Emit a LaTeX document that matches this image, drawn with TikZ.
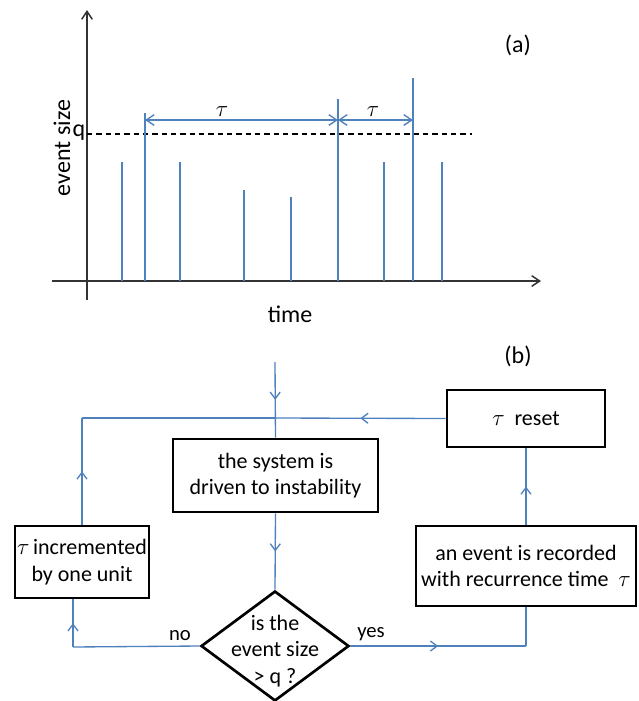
\documentclass[tikz,border=0pt]{standalone}
\usepackage{fontspec}
\setmainfont{Carlito}
\usetikzlibrary{arrows.meta,shapes.geometric,decorations.markings}
\definecolor{eventblue}{RGB}{79,129,189}

\begin{document}
\begin{tikzpicture}[x=0.75pt,y=-0.75pt,
    axis/.style={black!80, line width=1.1pt},
    spike/.style={eventblue, line width=1pt},
    flow/.style={eventblue, line width=1pt},
    barb/.tip={Straight Barb[length=6pt,width=8pt]},
    midarrow/.style={postaction={decorate}, decoration={markings,
        mark=at position 0.5 with {\arrow{Straight Barb[length=5pt,width=7.5pt]}}}},
    box/.style={draw=black, line width=2pt, align=center, inner sep=0pt,
        font=\fontsize{16.5pt}{20pt}\selectfont},
    decision/.style={diamond, draw=black, line width=2pt, inner sep=0pt,
        minimum width=111pt, minimum height=82.5pt},
    bigtext/.style={font=\fontsize{18pt}{21pt}\selectfont},
    smalltext/.style={font=\fontsize{15.5pt}{18pt}\selectfont}]
    \useasboundingbox (0,0) rectangle (639,701);

    % (a) event sizes against time
    \draw[axis,-barb] (87,300) -- (87,10);
    \draw[axis,-barb] (52,281) -- (541,281);
    \draw[black, line width=0.9pt, dash pattern=on 4pt off 3pt] (87,134) -- (472,134);
    \node[bigtext] (qlab) at (79,133) {q};
    \node[bigtext, rotate=90] (ylab) at (62,148) {event size};
    \node[bigtext] (xlab) at (290,314) {time};
    \node[bigtext] (alab) at (518,45) {(a)};

    \foreach \t/\h in {122/162, 145/113, 180/162, 244/190, 291/197,
                       338/99, 384/162, 413/78, 442/162}
        \draw[spike] (\t,281) -- (\t,\h);

    \draw[spike,barb-barb] (145,120) -- (338,120);
    \draw[spike,barb-barb] (338,120) -- (413,120);
    \node[bigtext] (tau1) at (222,112) {$\tau$};
    \node[bigtext] (tau2) at (373,112) {$\tau$};

    % (b) flow chart
    \node[bigtext] (blab) at (518,356) {(b)};

    \node[box, minimum width=153.75pt, minimum height=54.75pt] (sys) at (275.5,475.5)
        {the system is\\driven to instability};
    \node[decision] (test) at (275,646) {};
    \node[align=center, font=\fontsize{16.5pt}{20pt}\selectfont] (testtxt) at (275,651)
        {is the\\event size\\> q ?};
    \node[box, minimum width=100.5pt, minimum height=54pt] (incr) at (82,562)
        {$\tau$\,incremented\\by one unit};
    \node[box, minimum width=165pt, minimum height=60pt] (rec) at (526,566)
        {an event is recorded\\with recurrence time~~$\tau$};
    \node[box, minimum width=118.5pt, minimum height=42.75pt] (reset) at (526,418.5)
        {$\tau$~~reset};

    \coordinate (start) at (275,362);
    \coordinate (join) at (275,418);
    \coordinate (lcorner) at (82,418);
    \coordinate (ncorner) at (73,647);
    \coordinate (ycorner) at (rec.south |- test.east);

    \draw[flow,midarrow] (start) -- (sys.north);
    \draw[flow,midarrow] (sys.south) -- (test.north);
    \draw[flow] (test.west) -- (ncorner);
    \draw[flow,midarrow] (ncorner) -- (ncorner |- incr.south);
    \draw[flow,midarrow] (incr.north) -- (lcorner);
    \draw[flow] (lcorner) -- (join);
    \draw[flow,midarrow] (reset.west) -- (join);
    \draw[flow,midarrow] (test.east) -- (ycorner);
    \draw[flow] (ycorner) -- (rec.south);
    \draw[flow,midarrow] (rec.north) -- (reset.south);

    \node[smalltext] (nolab) at (180,636) {no};
    \node[smalltext] (yeslab) at (371,634) {yes};
\end{tikzpicture}
\end{document}
